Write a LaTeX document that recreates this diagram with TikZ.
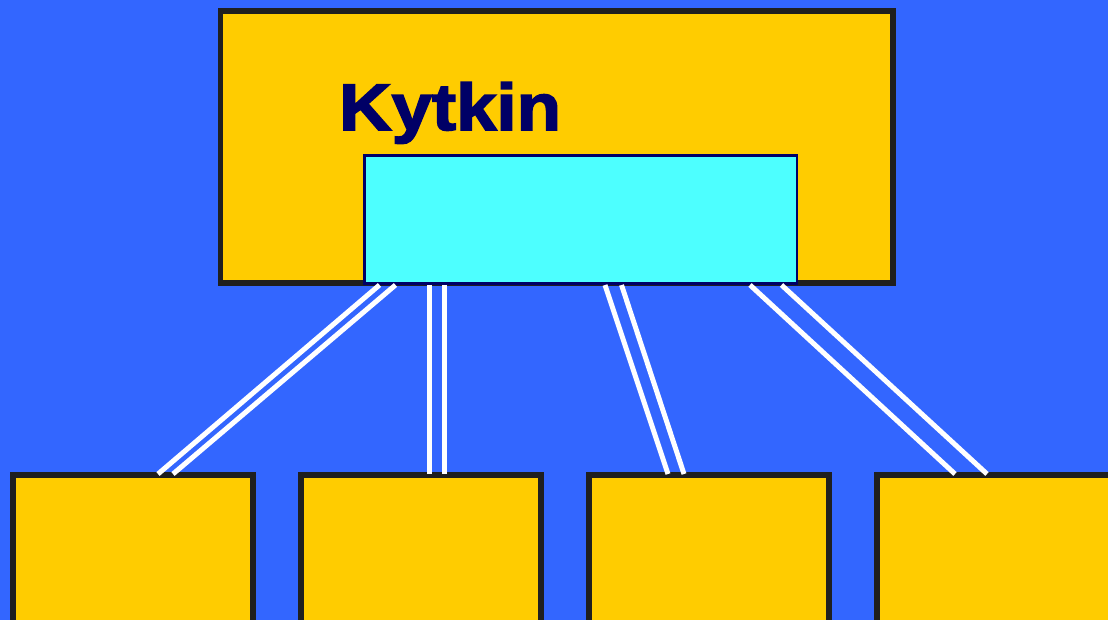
\documentclass[tikz,border=0pt]{standalone}
\usepackage{fontspec}
\usepackage{graphicx}
\setmainfont{Liberation Sans}
\newfontfamily\heavyfont[FakeBold=2.4]{Liberation Sans Bold}
\usetikzlibrary{calc}
\definecolor{bgblue}{HTML}{3366FF}
\definecolor{boxyellow}{HTML}{FFCC00}
\definecolor{hubcyan}{HTML}{4DFFFF}
\definecolor{edgedark}{HTML}{1F1F1F}
\definecolor{navy}{HTML}{000066}
\tikzset{
  ybox/.style={draw=edgedark, fill=boxyellow, line width=5.5pt, rectangle, inner sep=0pt, outer sep=0pt},
  hubbox/.style={draw=navy, fill=hubcyan, line width=2.5pt, rectangle, inner sep=0pt, outer sep=0pt},
  wire/.style={draw=white, line width=5pt},
  title/.style={text=navy, font=\fontsize{66}{80}\selectfont\heavyfont, inner sep=0pt, anchor=base west}
}
\begin{document}
\begin{tikzpicture}[x=1pt,y=-1pt]
\useasboundingbox (0,0) rectangle (1108,620);
\clip (0,0) rectangle (1108,620);
\fill[bgblue] (0,0) rectangle (1108,620);
\node[ybox, minimum width=672.5pt, minimum height=272pt] (outer) at (556.75,147) {};
\node[title] (label) at (339,130) {\scalebox{1.1}[1]{Kytkin}};
\node[hubbox, minimum width=432.5pt, minimum height=128pt] (hub) at (580.75,219.5) {};
\node[ybox, minimum width=240pt, minimum height=200pt] (b1) at (133,575) {};
\node[ybox, minimum width=240pt, minimum height=200pt] (b2) at (421,575) {};
\node[ybox, minimum width=240pt, minimum height=200pt] (b3) at (709,575) {};
\node[ybox, minimum width=240pt, minimum height=200pt] (b4) at (997,575) {};
% connector end points on the hub
\coordinate (h1a) at ($(hub.south west)+(15,1.5)$);
\coordinate (h1b) at ($(hub.south west)+(31,1.5)$);
\coordinate (h2a) at ($(hub.south west)+(64.5,1.5)$);
\coordinate (h2b) at ($(hub.south west)+(80.2,1.5)$);
\coordinate (h3a) at ($(hub.south west)+(240.5,1.5)$);
\coordinate (h3b) at ($(hub.south west)+(257,1.5)$);
\coordinate (h4a) at ($(hub.south west)+(385.5,1.5)$);
\coordinate (h4b) at ($(hub.south west)+(417,1.5)$);
% connector end points on the lower boxes
\coordinate (l1a) at ($(b1.north west)+(145,-1)$);
\coordinate (l1b) at ($(b1.north west)+(160,-1)$);
\coordinate (l2a) at ($(b2.north west)+(128,-1)$);
\coordinate (l2b) at ($(b2.north west)+(143.7,-1)$);
\coordinate (l3a) at ($(b3.north west)+(79,-1)$);
\coordinate (l3b) at ($(b3.north west)+(95,-1)$);
\coordinate (l4a) at ($(b4.north west)+(78,-1)$);
\coordinate (l4b) at ($(b4.north west)+(110,-1)$);
\draw[wire] (h1a) -- (l1a);
\draw[wire] (h1b) -- (l1b);
\draw[wire] (h2a) -- (l2a);
\draw[wire] (h2b) -- (l2b);
\draw[wire] (h3a) -- (l3a);
\draw[wire] (h3b) -- (l3b);
\draw[wire] (h4a) -- (l4a);
\draw[wire] (h4b) -- (l4b);
\end{tikzpicture}
\end{document}
